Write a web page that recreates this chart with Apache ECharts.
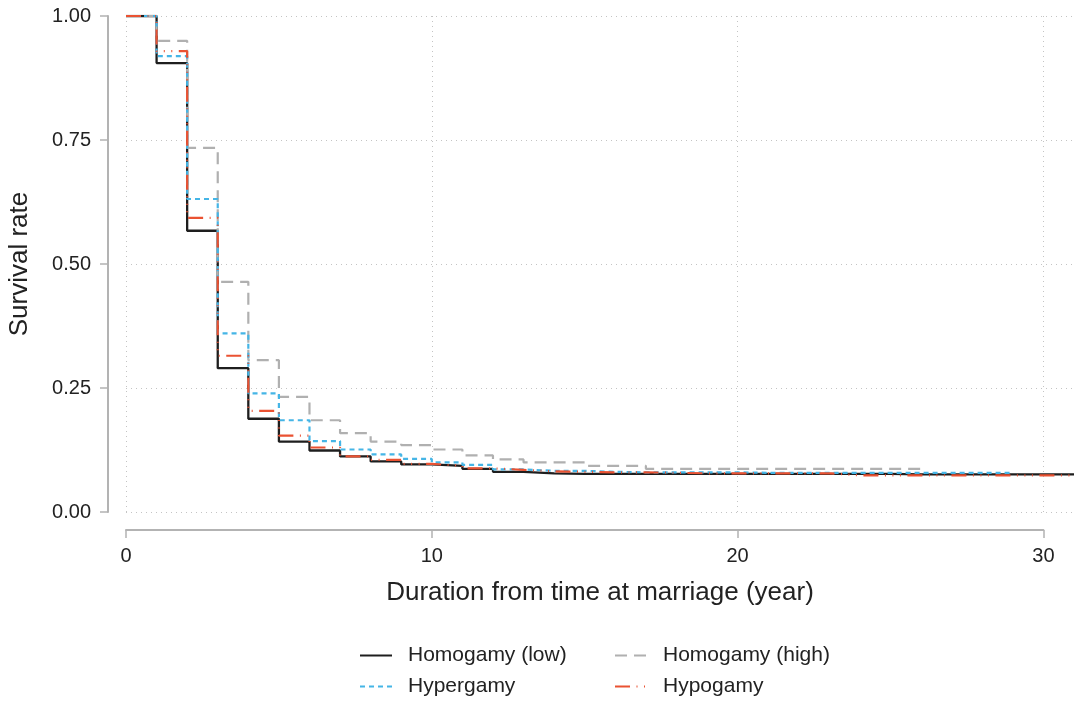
<!DOCTYPE html>
<html>
<head>
<meta charset="utf-8">
<script src="https://cdn.jsdelivr.net/npm/echarts@6/dist/echarts.min.js"></script>
<style>
  html, body { margin: 0; padding: 0; background: #fff; }
  #chart { width: 1092px; height: 702px; }
</style>
</head>
<body>
<div id="chart"></div>
<script>
// years since marriage
const years = [0, 1, 2, 3, 4, 5, 6, 7, 8, 9, 10, 11, 12, 13, 14, 15,
  16, 17, 18, 19, 20, 21, 22, 23, 24, 25, 26, 27, 28, 29, 30, 31]

// survival rate per year
const homogamyLow = [1, 0.905, 0.567, 0.290, 0.188, 0.142, 0.124, 0.112, 0.102, 0.096,
  0.093, 0.087, 0.081, 0.078, 0.077, 0.077, 0.077, 0.077, 0.077, 0.077, 0.077,
  0.077, 0.077, 0.077, 0.077, 0.076, 0.076, 0.076, 0.076, 0.076, 0.076, 0.076]
const homogamyHigh = [1, 0.950, 0.734, 0.464, 0.306, 0.232, 0.185, 0.159, 0.142, 0.135,
  0.126, 0.114, 0.106, 0.100, 0.100, 0.093, 0.093, 0.087, 0.087, 0.087, 0.087,
  0.087, 0.087, 0.087, 0.087, 0.087, 0.087]
const hypergamy = [1, 0.919, 0.631, 0.360, 0.239, 0.185, 0.143, 0.126, 0.116, 0.107,
  0.100, 0.095, 0.086, 0.083, 0.083, 0.081, 0.080, 0.080, 0.080, 0.080, 0.079,
  0.079, 0.079, 0.079, 0.079, 0.079, 0.079, 0.079, 0.079, 0.079]
const hypogamy = [1, 0.929, 0.593, 0.315, 0.204, 0.154, 0.130, 0.112, 0.105, 0.097,
  0.093, 0.088, 0.085, 0.082, 0.081, 0.080, 0.080, 0.079, 0.078, 0.078, 0.078,
  0.078, 0.078, 0.074, 0.074, 0.074, 0.074, 0.074, 0.074, 0.074, 0.074, 0.074]

const toPairs = vals => vals.map((v, i) => [years[i], v])

const axisGray = '#b3b3b3'
const gridDots = { color: '#c4c4c4', width: 1, type: [1, 4] }

function legendAt(name, left, top) {
  return {
    data: [name],
    left: left,
    top: top,
    padding: 0,
    itemWidth: 32,
    itemHeight: 14,
    itemStyle: { opacity: 0 },
    textStyle: { fontSize: 21, color: '#222', padding: [0, 0, 0, 11] }
  }
}

function kmLine(name, vals, color, type, width) {
  return {
    name: name,
    type: 'line',
    step: 'end',
    symbol: 'none',
    data: toPairs(vals),
    itemStyle: { color: color },
    lineStyle: { color: color, width: width, type: type }
  }
}

const chart = echarts.init(document.getElementById('chart'))
chart.setOption({
  animation: false,
  textStyle: { fontFamily: 'Liberation Sans, Arial, sans-serif' },
  grid: [
    { left: 126, right: 18, top: 16, bottom: 190, outerBoundsMode: 'none' },
    { left: 126, width: 917.4, top: 16, bottom: 190, outerBoundsMode: 'none' }
  ],
  legend: [
    legendAt('Homogamy (low)', 359, 645),
    legendAt('Homogamy (high)', 614, 645),
    legendAt('Hypergamy', 359, 676),
    legendAt('Hypogamy', 614, 676)
  ],
  xAxis: [
    {
      gridIndex: 0, type: 'value', min: 0, max: 31,
      axisLine: { show: false }, axisTick: { show: false },
      axisLabel: { show: false }, splitLine: { show: false },
      name: 'Duration from time at marriage (year)',
      nameLocation: 'middle', nameGap: 68,
      nameTextStyle: { fontSize: 26, color: '#222' }
    },
    {
      gridIndex: 1, type: 'value', min: 0, max: 30, interval: 10, offset: 18,
      axisLine: { show: true, onZero: false, lineStyle: { color: axisGray, width: 2 } },
      axisTick: { show: true, length: 8, lineStyle: { color: axisGray, width: 1.5 } },
      axisLabel: { fontSize: 20, color: '#222', margin: 16 },
      splitLine: { show: true, lineStyle: gridDots }
    }
  ],
  yAxis: [
    {
      gridIndex: 0, type: 'value', min: 0, max: 1, interval: 0.25, offset: 18,
      axisLine: { show: true, onZero: false, lineStyle: { color: axisGray, width: 2 } },
      axisTick: { show: true, length: 8, lineStyle: { color: axisGray, width: 1.5 } },
      axisLabel: { fontSize: 20, color: '#222', margin: 17, formatter: v => v.toFixed(2) },
      splitLine: { show: true, lineStyle: gridDots },
      name: 'Survival rate', nameLocation: 'middle', nameGap: 75,
      nameTextStyle: { fontSize: 26, color: '#222' }
    },
    { gridIndex: 1, type: 'value', min: 0, max: 1, show: false }
  ],
  series: [
    kmLine('Homogamy (low)', homogamyLow, '#1e1e1e', 'solid', 2.3),
    kmLine('Homogamy (high)', homogamyHigh, '#b0b0b0', [12, 7], 2.2),
    kmLine('Hypergamy', hypergamy, '#45b5e6', [5, 4], 2.2),
    kmLine('Hypogamy', hypogamy, '#ea5232', [15, 6.5, 1, 6.5, 1, 6.5, 1, 6.5], 2.2)
  ]
})
</script>
</body>
</html>
